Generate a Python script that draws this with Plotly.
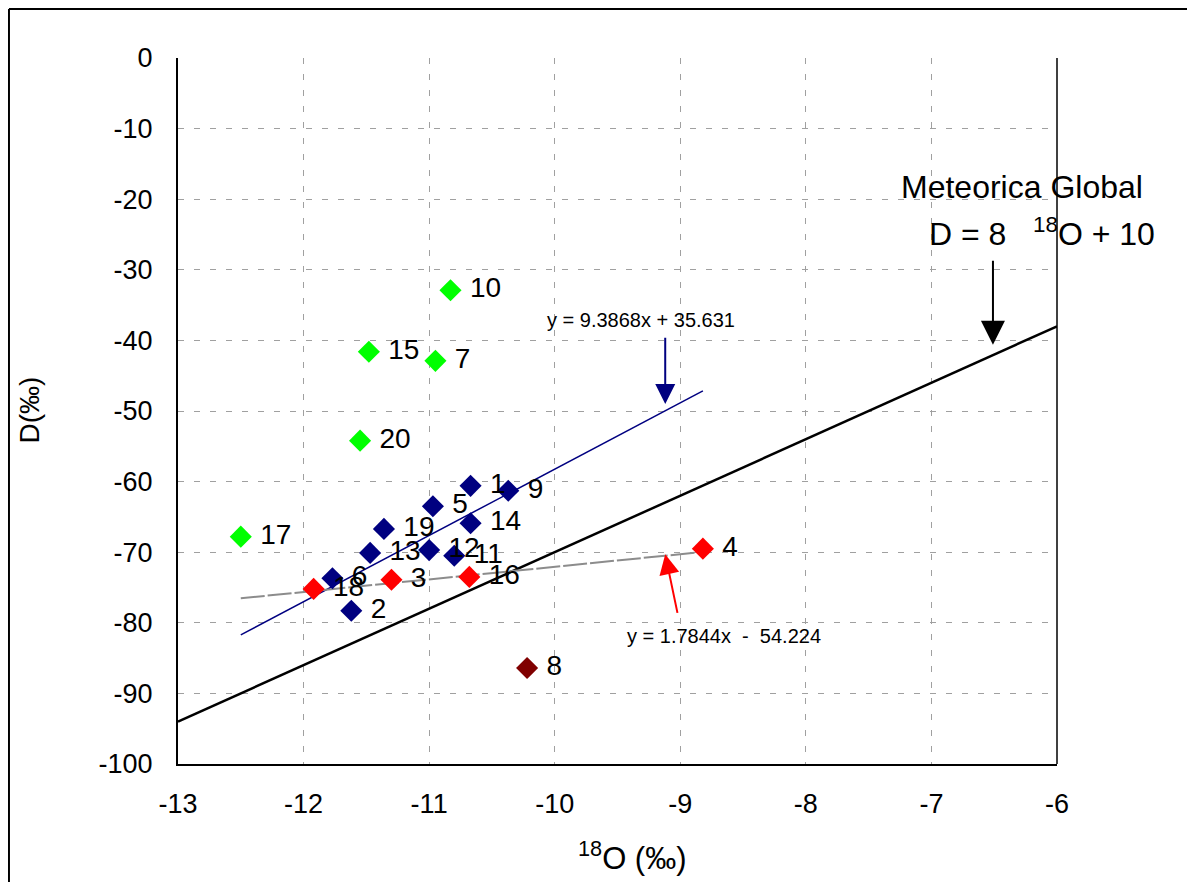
import plotly.graph_objects as go

# Data
blue_ids = ["1", "9", "5", "14", "19", "13", "12", "11", "6", "2"]
blue_x = [-10.67, -10.37, -10.97, -10.67, -11.36, -11.47, -11.00, -10.80, -11.77, -11.62]
blue_y = [-60.6, -61.3, -63.5, -65.9, -66.7, -70.1, -69.7, -70.5, -73.7, -78.3]

red_ids = ["18", "3", "16", "4"]
red_x = [-11.92, -11.30, -10.68, -8.82]
red_y = [-75.2, -73.9, -73.5, -69.5]

dark_ids = ["8"]
dark_x = [-10.22]
dark_y = [-86.4]

green_ids = ["10", "15", "7", "20", "17"]
green_x = [-10.83, -11.48, -10.95, -11.55, -12.50]
green_y = [-32.9, -41.6, -42.9, -54.2, -67.8]

x_ticks = [-13, -12, -11, -10, -9, -8, -7, -6]
y_ticks = [0, -10, -20, -30, -40, -50, -60, -70, -80, -90, -100]

# Regression / reference lines
gmwl_x = [-13, -6]
blue_fit_x = [-12.5, -8.82]
red_fit_x = [-12.5, -8.82]
blue_slope, blue_int = 9.3868, 35.631
red_slope, red_int = 1.7844, -54.224
gmwl_slope, gmwl_int = 8, 10

FONT = "Liberation Sans, Arial, sans-serif"

fig = go.Figure()

fig.add_trace(go.Scatter(x=gmwl_x, y=[gmwl_slope * v + gmwl_int for v in gmwl_x],
                         mode="lines", line=dict(color="black", width=2.5), hoverinfo="skip"))
fig.add_trace(go.Scatter(x=blue_fit_x, y=[blue_slope * v + blue_int for v in blue_fit_x],
                         mode="lines", line=dict(color="#000080", width=1.5), hoverinfo="skip"))
fig.add_trace(go.Scatter(x=red_fit_x, y=[red_slope * v + red_int for v in red_fit_x],
                         mode="lines", line=dict(color="#8c8c8c", width=2, dash="24px,3px"), hoverinfo="skip"))

def pts(xs, ys, ids, color):
    fig.add_trace(go.Scatter(x=xs, y=ys, mode="markers+text", text=ids,
                             textposition="middle right",
                             textfont=dict(family=FONT, size=28, color="black"),
                             marker=dict(symbol="diamond", size=17, color=color,
                                         line=dict(width=0))))

pts(green_x, green_y, [" " + t for t in green_ids], "#00FF00")
pts(blue_x, blue_y, [" " + t for t in blue_ids], "#000080")
pts(red_x, red_y, [" " + t for t in red_ids], "#FF0000")
pts(dark_x, dark_y, [" " + t for t in dark_ids], "#800000")

annotations = [
    dict(x=-6.51, y=-40.6, ax=-6.51, ay=-28.5, xref="x", yref="y", axref="x", ayref="y",
         showarrow=True, arrowhead=2, arrowsize=2.4, arrowwidth=2, arrowcolor="black", text=""),
    dict(x=-6.28, y=-18.3, xref="x", yref="y", text="Meteorica Global", showarrow=False,
         font=dict(family=FONT, size=32, color="black")),
    dict(x=-6.12, y=-24.6, xref="x", yref="y", text="D = 8   <sup>18</sup>O + 10", showarrow=False,
         font=dict(family=FONT, size=32, color="black")),
    dict(x=-9.12, y=-49.0, ax=-9.12, ay=-39.4, xref="x", yref="y", axref="x", ayref="y",
         showarrow=True, arrowhead=2, arrowsize=2, arrowwidth=2, arrowcolor="#000080", text=""),
    dict(x=-9.31, y=-37.1, xref="x", yref="y", text="y = 9.3868x + 35.631", showarrow=False,
         font=dict(family=FONT, size=20, color="black")),
    dict(x=-9.12, y=-70.3, ax=-9.02, ay=-78.8, xref="x", yref="y", axref="x", ayref="y",
         showarrow=True, arrowhead=2, arrowsize=2, arrowwidth=2, arrowcolor="#FF0000", text=""),
    dict(x=-8.65, y=-81.9, xref="x", yref="y", text="y = 1.7844x  -  54.224", showarrow=False,
         font=dict(family=FONT, size=20, color="black")),
    # axis titles
    dict(x=0.5165, y=-0.13, xref="paper", yref="paper", xanchor="center", yanchor="middle",
         text="<sup>18</sup>O (‰)", showarrow=False,
         font=dict(family=FONT, size=31, color="black")),
    dict(x=-0.17, y=0.5014, xref="paper", yref="paper", xanchor="center", yanchor="middle",
         text="D(‰)", showarrow=False, textangle=-90,
         font=dict(family=FONT, size=28, color="black")),
]

shapes = [
    # right border of plot area
    dict(type="line", xref="paper", yref="paper", x0=1, x1=1, y0=0, y1=1,
         line=dict(color="black", width=1.5)),
    # outer frame (top and left)
    dict(type="line", xref="paper", yref="paper", x0=-0.1923, x1=1.16, y0=1.0694, y1=1.0694,
         line=dict(color="black", width=2)),
    dict(type="line", xref="paper", yref="paper", x0=-0.1923, x1=-0.1923, y0=-0.18, y1=1.0694,
         line=dict(color="black", width=2)),
]

fig.update_layout(
    width=1179, height=874,
    margin=dict(l=170, r=130, t=50, b=118),
    paper_bgcolor="white", plot_bgcolor="white",
    showlegend=False,
    annotations=annotations,
    shapes=shapes,
    font=dict(family=FONT, color="black"),
)
fig.update_xaxes(range=[-13, -6], tickvals=x_ticks, ticktext=[str(v) for v in x_ticks],
                 showgrid=True, gridcolor="#a0a0a0", griddash="6px,10px", gridwidth=1,
                 showline=True, linecolor="black", linewidth=2, zeroline=False,
                 ticks="", ticklen=0, ticklabelstandoff=15,
                 tickfont=dict(family=FONT, size=27))
fig.update_yaxes(range=[-100, 0], tickvals=y_ticks, ticktext=[str(v) for v in y_ticks],
                 showgrid=True, gridcolor="#a0a0a0", griddash="6px,10px", gridwidth=1,
                 showline=True, linecolor="black", linewidth=2, zeroline=False,
                 ticks="", ticklen=0, ticklabelstandoff=18,
                 tickfont=dict(family=FONT, size=27))

fig.write_html("out.html")
